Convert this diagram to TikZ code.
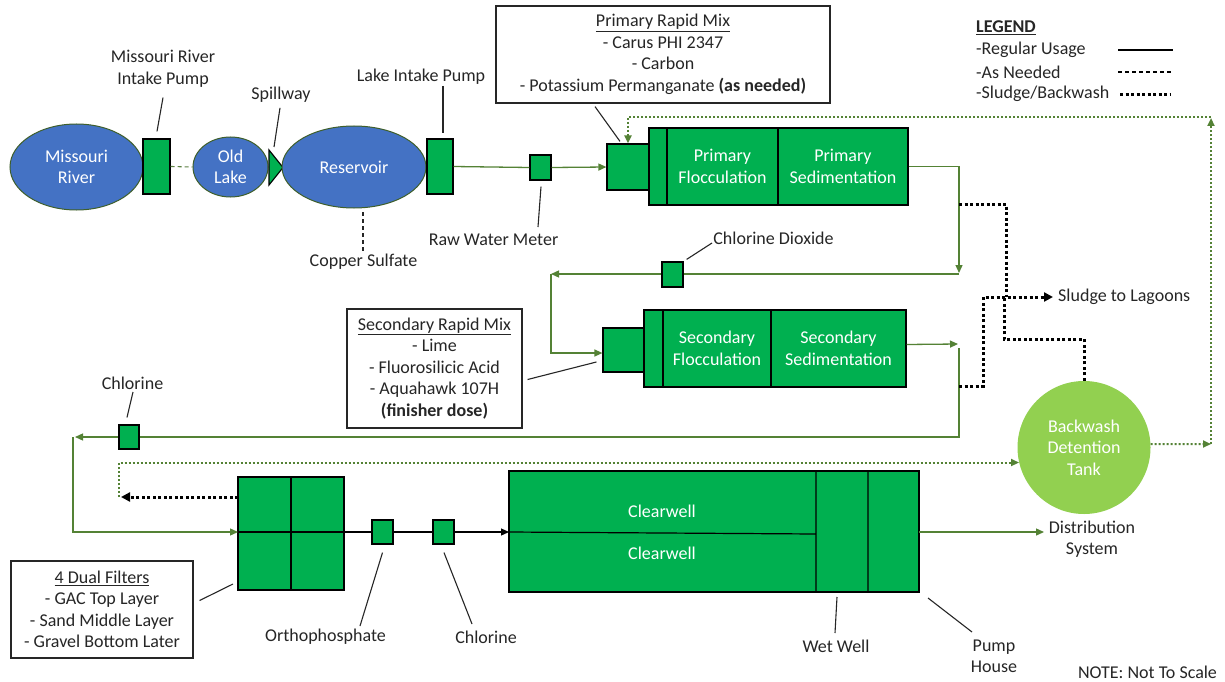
\documentclass[tikz,border=0pt]{standalone}
\usepackage{fontspec}
\setmainfont{Carlito}
\usetikzlibrary{arrows.meta,shapes.geometric,calc}
\definecolor{boxgreen}{HTML}{00B050}
\definecolor{riverblue}{HTML}{4472C4}
\definecolor{tankgreen}{HTML}{92D050}
\definecolor{flowgreen}{HTML}{548235}
\definecolor{edgeolive}{HTML}{3F5F2A}
\definecolor{txt}{HTML}{262626}
\begin{document}
\begin{tikzpicture}[x=1pt,y=-1pt,
  font=\fontsize{18}{21.5}\selectfont,
  box/.style={draw=black, fill=boxgreen, line width=1.2pt, inner sep=0pt, text=white, align=center},
  lake/.style={ellipse, draw=edgeolive, fill=riverblue, line width=1pt, inner sep=0pt, text=white, align=center},
  lbl/.style={text=txt, align=center, inner sep=0pt},
  callout/.style={draw=black!85, fill=white, line width=1.2pt, align=center, text=txt, inner sep=0pt},
  flow/.style={draw=flowgreen, line width=1.3pt},
  arr/.style={-{Triangle[length=8pt,width=7pt]}},
  sarr/.style={-{Triangle[length=9pt,width=9pt]}},
  lead/.style={draw=txt, line width=1.1pt},
  sludge/.style={draw=black, line width=3pt, dash pattern=on 3pt off 2.5pt},
  bwash/.style={draw=flowgreen, line width=2pt, dash pattern=on 2pt off 2pt},
  asneeded/.style={line width=1.1pt, dash pattern=on 4pt off 3pt}
]
\useasboundingbox[fill=white] (0,0) rectangle (1225,682);

% long return lines drawn first so the dosing boxes sit on top
\coordinate (r1) at (959,274);
\coordinate (l1) at (551,274);
\coordinate (r2) at (959,348);
\coordinate (l2) at (73,437);
\draw[flow, arr] (r1) -- (l1);
\draw[flow, arr] (r2) |- (75,437);

% ---------- top row ----------
\node[lake, minimum width=133pt, minimum height=86pt] (river) at (76.5,167) {Missouri\\River};
\node[box, minimum width=27pt, minimum height=55pt] (pump1) at (156.5,166.5) {};
\node[lake, minimum width=75pt, minimum height=60pt] (oldlake) at (230.5,167) {Old\\Lake};
\draw[fill=boxgreen, draw=black, line width=1.1pt] (269,150) -- (283,167.5) -- (269,185) -- cycle;
\coordinate (spill) at (274,147);
\node[lake, minimum width=144pt, minimum height=82pt] (res) at (354,167) {Reservoir};
\node[box, minimum width=26pt, minimum height=55pt] (pump2) at (440,166.5) {};
\node[box, minimum width=21pt, minimum height=25pt] (meter) at (540.5,167.5) {};
\node[box, minimum width=42pt, minimum height=46pt] (prm) at (628,167) {};
\node[box, minimum width=18pt, minimum height=77pt] (pstrip) at (658,166.5) {};
\node[box, minimum width=111pt, minimum height=77pt] (pfloc) at (722.5,166.5) {Primary\\Flocculation};
\node[box, minimum width=130pt, minimum height=77pt] (psed) at (843,166.5) {Primary\\Sedimentation};

\node[callout, minimum width=334pt, minimum height=97pt] (pcall) at (663,54.5)
  {\underline{Primary Rapid Mix}\\- Carus PHI 2347\\- Carbon\\- Potassium Permanganate \textbf{(as needed)}};

% labels top
\node[lbl] (mripl) at (163,69) {Missouri River\\Intake Pump};
\node[lbl] (spilll) at (281,95) {Spillway};
\node[lbl] (lipl) at (421,77) {Lake Intake Pump};
\node[lbl] (cusl) at (363.5,262) {Copper Sulfate};
\node[lbl] (rwml) at (493.5,240) {Raw Water Meter};

\draw[lead] ($(mripl.south)+(0,10)$) -- ($(pump1.north)+(0.5,-7)$);
\draw[lead] ($(spilll.south)+(-1,5)$) -- (spill);
\draw[lead] (443,86) -- ($(pump2.north)+(3,-5)$);
\draw[lead, asneeded] (363,212) -- (363,251);
\draw[lead] ($(meter.south)+(0.5,6)$) -- (538,227);
\draw[lead] ($(pcall.south)+(-68,3)$) -- ($(prm.north)+(-8,-2)$);

% legend
\node[lbl, anchor=west] (leg) at (976,28) {\textbf{\underline{LEGEND}}};
\node[lbl, anchor=west] (leg1) at (976,50) {-Regular Usage};
\node[lbl, anchor=west] (leg2) at (976,72) {-As Needed};
\node[lbl, anchor=west] (leg3) at (976,94) {-Sludge/Backwash};
\draw[black, line width=1.2pt] (1118,50) -- (1173,50);
\draw[black, asneeded] (1118,72) -- (1173,72);
\draw[sludge] (1120,95) -- (1170,95);

% ---------- second row ----------
\node[box, minimum width=21pt, minimum height=25pt] (clo2) at (672.5,274.5) {};
\node[lbl] (clo2l) at (773.5,238) {Chlorine Dioxide};
\node[box, minimum width=41pt, minimum height=44pt] (srm) at (623.5,350) {};
\node[box, minimum width=19pt, minimum height=77pt] (sstrip) at (653.5,348.5) {};
\node[box, minimum width=108pt, minimum height=77pt] (sfloc) at (717,348.5) {Secondary\\Flocculation};
\node[box, minimum width=135pt, minimum height=77pt] (ssed) at (838.5,348.5) {Secondary\\Sedimentation};
\node[callout, minimum width=175pt, minimum height=119pt] (scall) at (434.5,368.5)
  {\underline{Secondary Rapid Mix}\\- Lime\\- Fluorosilicic Acid\\- Aquahawk 107H\\\textbf{(finisher dose)}};
\node[lbl, anchor=west] (sludgel) at (1058,297) {Sludge to Lagoons};

\draw[lead] ($(clo2.north east)+(3,-2)$) -- (712,243);
\draw[lead] ($(scall.east)+(5,11)$) -- ($(srm.west)+(-6,12)$);

% ---------- third row ----------
\node[box, minimum width=20pt, minimum height=24pt] (cl1) at (129,437) {};
\node[lbl] (cl1l) at (132.5,383) {Chlorine};
\draw[lead] (133,392) -- ($(cl1.north)+(-2,-7)$);

\node[circle, fill=tankgreen, minimum size=133pt, inner sep=0pt, text=white, align=center] (tank) at (1084,447.5) {Backwash\\Detention\\Tank};

% ---------- bottom row ----------
\node[box, minimum width=106pt, minimum height=113pt] (filt) at (291,533.5) {};
\draw[black, line width=1.2pt] (filt.north) -- (filt.south) (238,532) -- (344,532);
\node[callout, minimum width=182pt, minimum height=97pt] (fcall) at (102,609.5)
  {\underline{4 Dual Filters}\\- GAC Top Layer\\- Sand Middle Layer\\- Gravel Bottom Later};
\draw[lead] ($(fcall.east)+(6,-9)$) -- (233,584);

\node[box, minimum width=21pt, minimum height=24pt] (ortho) at (382.5,532) {};
\node[box, minimum width=21pt, minimum height=24pt] (cl2) at (443.5,532) {};
\node[lbl] (orthol) at (325.5,637) {Orthophosphate};
\node[lbl] (cl2l) at (486,637) {Chlorine};
\draw[lead] ($(ortho.south)+(0,8)$) -- (360,626);
\draw[lead] ($(cl2.south)+(0.5,8)$) -- (472,624);

\node[box, minimum width=410pt, minimum height=121pt] (cw) at (714,531.5) {};
\draw[black, line width=1.2pt] (816,471) -- (816,592) (868,471) -- (868,592) (509,532) -- (816,534);
\node[lbl, text=white] (cw1) at (662,511) {Clearwell};
\node[lbl, text=white] (cw2) at (662,553) {Clearwell};

\node[lbl] (wwl) at (836,646) {Wet Well};
\node[lbl] (phl) at (994,656.5) {Pump\\House};
\node[lbl] (distl) at (1092,539) {Distribution\\System};
\node[lbl] (note) at (1147.5,672) {NOTE: Not To Scale};
\draw[lead] (837,597) -- (835,633);
\draw[lead] (928,598) -- (972,632);

% ---------- flow connectors ----------
\draw[flow, draw=flowgreen!80!gray, asneeded] (pump1.east) -- (oldlake.west);
\draw[flow] (pump2.east) -- (meter.west);
\draw[flow, arr] (meter.east) -- (prm.west);
\draw[flow, arr] (psed.east) -| (959,273);
\draw[flow, arr] (l1) |- ($(srm.west)+(0,3)$);
\draw[flow, arr] ($(ssed.east)+(0,-4)$) -- (958,344);
\draw[flow, arr] (l2) |- (238,532);

\draw[black, line width=1.2pt] (ortho.west -| filt.east) -- (ortho.west);
\draw[black, line width=1.2pt] (ortho.east) -- (cl2.west);
\draw[black, line width=1.2pt, arr] (cl2.east) -- (509,532);
\draw[flow, arr] (919,532) -- (1044,532);

% ---------- sludge ----------
\draw[sludge] (959,204) -| (1006,297);
\draw[sludge, sarr] (959,386) -| (983,297) -- ($(sludgel.west)+(-5,0)$);
\draw[sludge] (tank.north) |- (1004,339) -- (1004,297);
\draw[sludge, sarr] (238,497) -- (121,497);

% ---------- backwash ----------
\draw[bwash, arr] (119,497) |- (tank.193);
\draw[bwash, arr] (tank.3) -- (1211,444);
\draw[bwash, arr] (1211,444) -- (1211,118);
\draw[bwash, arr] (1211,117) -| (prm.north);
\end{tikzpicture}
\end{document}
